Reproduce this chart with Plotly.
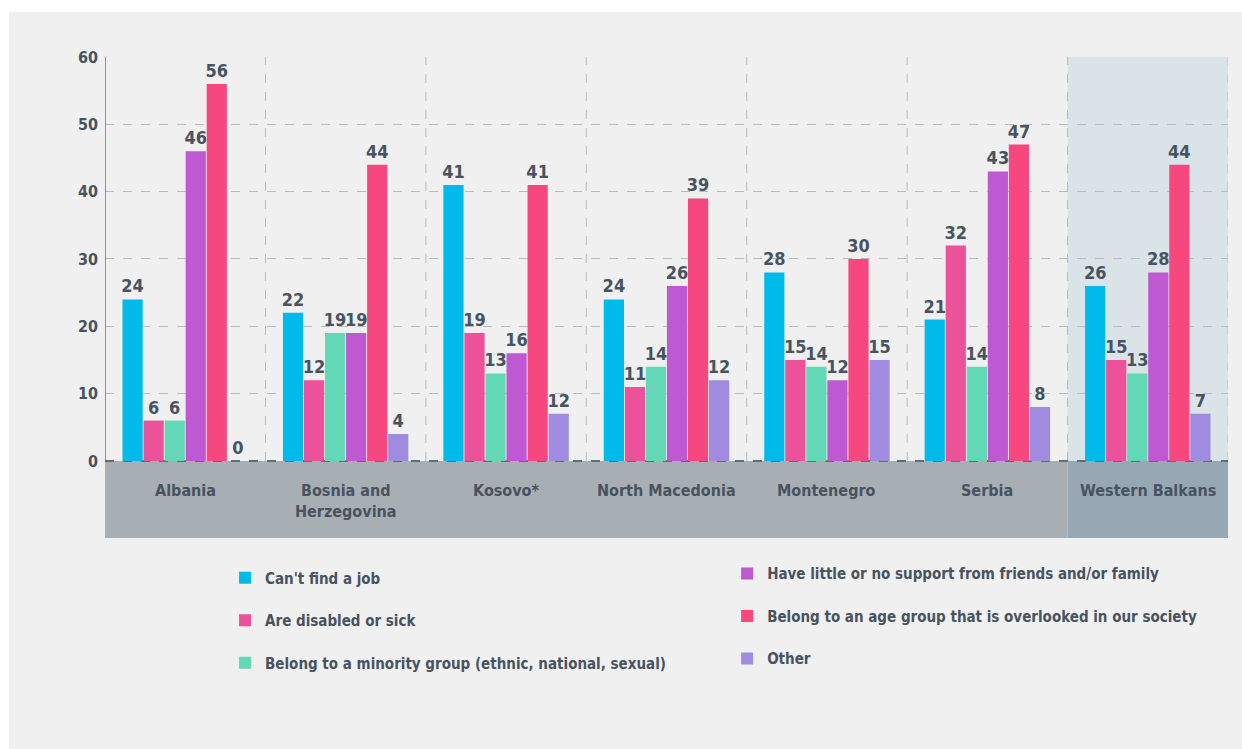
import plotly.graph_objects as go

categories = ["Albania", "Bosnia and<br>Herzegovina", "Kosovo*", "North Macedonia",
              "Montenegro", "Serbia", "Western Balkans"]

series_names = [
    "Can't find a job",
    "Are disabled or sick",
    "Belong to a minority group (ethnic, national, sexual)",
    "Have little or no support from friends and/or family",
    "Belong to an age group that is overlooked in our society",
    "Other",
]
job = [24, 22, 41, 24, 28, 21, 26]
disabled = [6, 12, 19, 11, 15, 32, 15]
minority = [6, 19, 13, 14, 14, 14, 13]
support = [46, 19, 16, 26, 12, 43, 28]
age_group = [56, 44, 41, 39, 30, 47, 44]
other = [0, 4, 7, 12, 15, 8, 7]
other_labels = ["0", "4", "12", "12", "15", "8", "7"]

y_ticks = [0, 10, 20, 30, 40, 50, 60]

colors = ["#00BAE9", "#EC5299", "#62D8B6", "#BE59D1", "#F6477F", "#9F8CE0"]
values = [job, disabled, minority, support, age_group, other]
labels = [[str(v) for v in job], [str(v) for v in disabled], [str(v) for v in minority],
          [str(v) for v in support], [str(v) for v in age_group], other_labels]

TXT = "#48535F"
FONT = "Liberation Sans Narrow, Arial Narrow, DejaVu Sans Condensed, sans-serif"

x_idx = list(range(len(categories)))
fig = go.Figure()
for i, (name, vals, lab, col) in enumerate(zip(series_names, values, labels, colors)):
    fig.add_trace(go.Bar(
        x=x_idx, y=vals, name=name, marker=dict(color=col, line=dict(width=0)),
        text=lab, textposition="outside", constraintext="none", cliponaxis=False,
        textfont=dict(family=FONT, size=18, color=TXT, weight="bold"),
        legend="legend" if i < 3 else "legend2",
        legendgroup=f"g{i}",
        hoverinfo="skip",
    ))

ymin = -11.44
shapes = []
# grey panel
shapes.append(dict(type="rect", xref="paper", yref="paper", x0=-0.0855, x1=1.2, y0=-1, y1=1.0936,
                   fillcolor="#EFF0EF", line=dict(width=0), layer="below"))
# highlight WB
shapes.append(dict(type="rect", xref="x", yref="y", x0=5.5, x1=6.5, y0=0, y1=60,
                   fillcolor="#D9E3E8", line=dict(width=0), layer="below"))
# category band
shapes.append(dict(type="rect", xref="x", yref="y", x0=-0.5, x1=5.5, y0=ymin, y1=0,
                   fillcolor="#A7AEB4", line=dict(width=0), layer="below"))
shapes.append(dict(type="rect", xref="x", yref="y", x0=5.5, x1=6.5, y0=ymin, y1=0,
                   fillcolor="#97A8B4", line=dict(width=0), layer="below"))
# vertical dashed separators
for xv in [0.5, 1.5, 2.5, 3.5, 4.5, 5.5, 6.5]:
    shapes.append(dict(type="line", xref="x", yref="y", x0=xv, x1=xv, y0=0, y1=60,
                       line=dict(color="#B7BBBE", width=1, dash="dash"), layer="below"))
# left axis line
shapes.append(dict(type="line", xref="x", yref="y", x0=-0.5, x1=-0.5, y0=0, y1=60,
                   line=dict(color="#6B747C", width=1.5), layer="above"))
# zero line
shapes.append(dict(type="line", xref="x", yref="y", x0=-0.5, x1=6.5, y0=0, y1=0,
                   line=dict(color="#4B5764", width=1.5, dash="dash"), layer="between"))

annotations = []
for i, c in enumerate(categories):
    annotations.append(dict(x=i, y=-2.7, xref="x", yref="y", text=c, showarrow=False,
                            yanchor="top", xanchor="center",
                            font=dict(family=FONT, size=16, color=TXT, weight="bold")))

legend_font = dict(family=FONT, size=15, color=TXT, weight="bold")
fig.update_layout(
    width=1242, height=749,
    margin=dict(l=105, r=14, t=57, b=211),
    paper_bgcolor="white",
    plot_bgcolor="rgba(0,0,0,0)",
    barmode="group", bargap=0.213, bargroupgap=0.04,
    font=dict(family=FONT, color=TXT),
    xaxis=dict(range=[-0.5, 6.5], showticklabels=False, showgrid=False, zeroline=False,
               showline=False, fixedrange=True),
    yaxis=dict(range=[ymin, 60], tickvals=y_ticks, ticktext=[str(t) for t in y_ticks],
               showgrid=True, gridcolor="#B7BBBE", griddash="dash", gridwidth=1,
               zeroline=False, showline=False, ticks="", ticklabelstandoff=6,
               tickfont=dict(family=FONT, size=16, color=TXT, weight="bold")),
    shapes=shapes,
    annotations=annotations,
    showlegend=True,
    legend=dict(x=0.1069, y=-0.049, xanchor="left", yanchor="top", orientation="v",
                bgcolor="rgba(0,0,0,0)", tracegroupgap=20, traceorder="grouped",
                font=legend_font),
    legend2=dict(x=0.554, y=-0.04, xanchor="left", yanchor="top", orientation="v",
                 bgcolor="rgba(0,0,0,0)", tracegroupgap=20, traceorder="grouped",
                 font=legend_font),
)

fig.write_html("out.html", config={"displayModeBar": False},
               post_script="document.body.style.margin='0px';document.body.style.padding='0px';")
